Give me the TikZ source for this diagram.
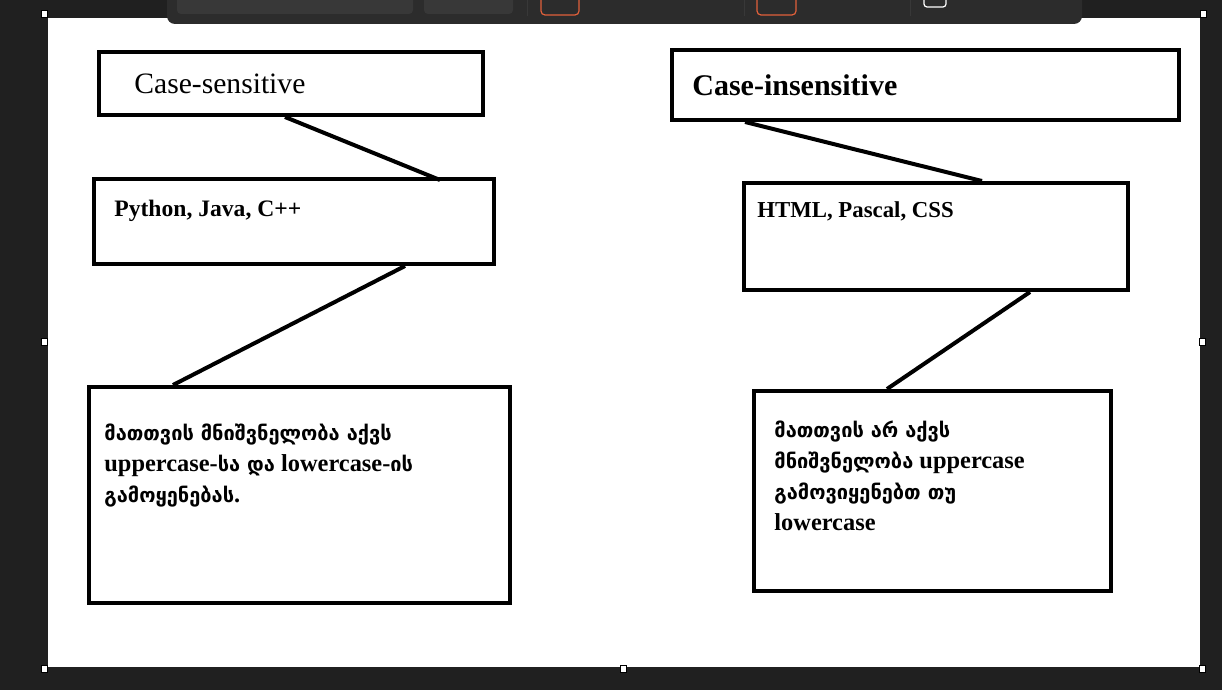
\documentclass[tikz,border=0pt]{standalone}
\usepackage{fontspec}
\setmainfont{Liberation Serif}
\newfontfamily\geofont[Scale=0.82]{DejaVu Sans}
\newcommand{\geotext}[1]{{\geofont #1}}
\usetikzlibrary{positioning,calc}
\definecolor{appbg}{HTML}{202020}
\definecolor{barbg}{HTML}{2C2C2C}
\definecolor{fieldbg}{HTML}{383838}
\definecolor{accent}{HTML}{E0603A}
\tikzset{
  box/.style={draw, line width=2pt, inner sep=0pt},
  link/.style={line width=2pt},
  handle/.style={fill=white, draw=black, line width=0.4pt, minimum width=3pt, minimum height=3.5pt, inner sep=0pt},
  label/.style={anchor=base west, inner sep=0pt},
  body/.style={anchor=base west, inner sep=0pt, align=left, font=\bfseries\fontsize{12.2}{15.5}\selectfont}
}
\begin{document}
\begin{tikzpicture}[x=0.5pt,y=-0.5pt]
            % window and canvas
            \fill[appbg] (0,0) rectangle (1222,690);
            \useasboundingbox (0,0) rectangle (1222,690);
            \fill[white] (48,18) rectangle (1200,667);
            \fill[barbg,rounded corners=4pt] (167,-20) rectangle (1082,24);
            \fill[fieldbg,rounded corners=2pt] (177,-10) rectangle (413,14);
            \fill[fieldbg,rounded corners=2pt] (424,-10) rectangle (513,14);
            \draw[accent,line width=0.6pt,rounded corners=2pt] (541,-10) rectangle (579,15);
            \draw[accent,line width=0.6pt,rounded corners=2pt] (757,-10) rectangle (796,15);
            \draw[white,line width=0.6pt,rounded corners=1.5pt] (924,-10) rectangle (946,7);
            \foreach \sx in {527, 744, 910}
              \draw[fieldbg,line width=0.4pt] (\sx,-10) -- (\sx,16);
            \foreach \hx/\hy in {44/14, 44/342, 44/669, 623/669, 1202/669, 1202/342, 1203/14}
              \node[handle] at (\hx,\hy) {};
            % boxes
            \node[box, minimum width=192pt, minimum height=31.5pt] (sens) at (291,83.5) {};
            \node[box, minimum width=200pt, minimum height=42.5pt] (senslang) at (294,221.5) {};
            \node[box, minimum width=210.5pt, minimum height=108pt] (sensnote) at (299.5,495) {};
            \node[box, minimum width=253.5pt, minimum height=35pt] (insens) at (925.5,85) {};
            \node[box, minimum width=192pt, minimum height=53.5pt] (insenslang) at (936,236.5) {};
            \node[box, minimum width=178.5pt, minimum height=100pt] (insensnote) at (932.5,491) {};
            % texts
            \node[label, font=\fontsize{14.8}{17}\selectfont] (senstitle) at (134,94) {Case-sensitive};
            \node[label, font=\bfseries\fontsize{15}{18}\selectfont] (insenstitle) at (692,96) {Case-insensitive};
            \node[label, font=\bfseries\fontsize{11.8}{13}\selectfont] (senslist) at (114,216) {Python, Java, C++};
            \node[label, font=\bfseries\fontsize{11.4}{13}\selectfont] (insenslist) at (757,218) {HTML, Pascal, CSS};
            \node[body] (senstext) at (104,502) {\geotext{მათთვის მნიშვნელობა აქვს}\\
              uppercase-\geotext{სა და} lowercase-\geotext{ის}\\
              \geotext{გამოყენებას}.};
            \node[body] (insenstext) at (774,530) {\geotext{მათთვის არ აქვს}\\
              \geotext{მნიშვნელობა} uppercase\\
              \geotext{გამოვიყენებთ თუ}\\
              lowercase};
            % connectors
            \draw[link] ([xshift=-3pt]sens.south) -- ([xshift=73pt,yshift=-1.5pt]senslang.north);
            \draw[link] ([xshift=55.5pt]senslang.south) -- ([xshift=-63.25pt]sensnote.north);
            \draw[link] ([xshift=-90.25pt]insens.south) -- ([xshift=23pt]insenslang.north);
            \draw[link] ([xshift=47pt]insenslang.south) -- ([xshift=-22.75pt]insensnote.north);
\end{tikzpicture}
\end{document}
